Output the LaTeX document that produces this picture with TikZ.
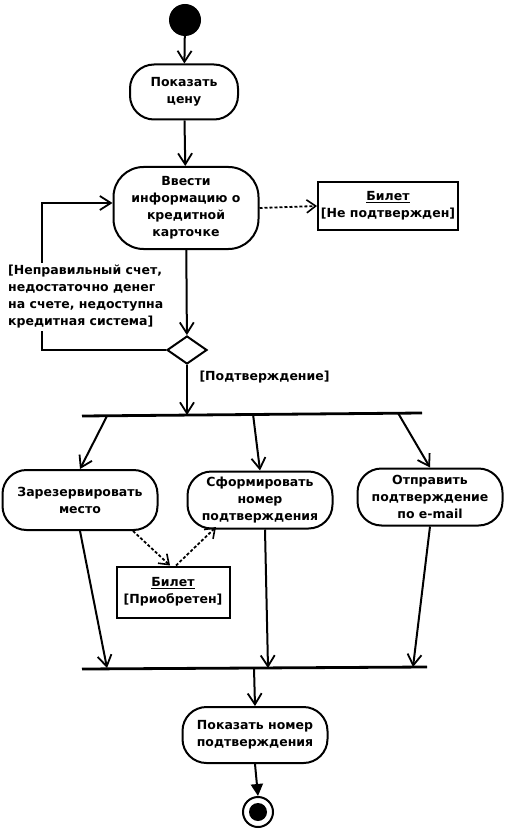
\documentclass[tikz,border=0pt]{standalone}
\usepackage{fontspec}
\setmainfont{DejaVu Sans}
\usetikzlibrary{arrows.meta,shapes.geometric}
\begin{document}
\begin{tikzpicture}[x=1pt,y=-1pt,
  every node/.style={font=\fontsize{12.5}{17}\selectfont\bfseries, align=center},
  act/.style={draw, line width=2pt, rounded corners=24pt, inner sep=1pt},
  obj/.style={draw, line width=2pt, inner sep=2pt},
  arr/.style={line width=2pt, -{Straight Barb[length=11pt,width=14pt,line width=1.8pt]}},
  darr/.style={line width=1.8pt, dash pattern=on 3pt off 2pt, -{Straight Barb[length=9pt,width=13pt,line width=1.6pt]}},
  bar/.style={line width=2.8pt}]
\useasboundingbox (0,0) rectangle (515,829);
\fill (185,20) circle (16);
\node[circle, minimum size=32pt, inner sep=0pt] (start) at (185,20) {};
\node[act, minimum width=108pt, minimum height=55pt] (a1) at (184,92) {Показать\\цену};
\node[act, minimum width=145pt, minimum height=82pt, rounded corners=30pt] (a2) at (186,208) {Ввести\\информацию о\\кредитной\\карточке};
\node[obj, minimum width=140pt, minimum height=48pt] (o1) at (388,206) {\underline{Билет}\\{}[Не подтвержден]};
\node[draw, diamond, line width=2pt, minimum width=40pt, minimum height=28pt, inner sep=0pt, aspect=1.5] (d) at (187,350) {};
\coordinate (l1) at (42,350);
\coordinate (l2) at (42,203);
\draw[arr] (d.west) -- (l1) -- (l2) -- (a2.west |- l2);
\node[fill=white, align=left, inner sep=2pt, anchor=west] (g1) at (6,297) {[Неправильный счет,\\недостаточно денег\\на счете, недоступна\\кредитная система]};
\node[anchor=west] (g2) at (196,377) {[Подтверждение]};
\draw[arr] (start) -- (a1);
\draw[arr] (a1) -- (a2);
\draw[arr] (a2) -- (d);
\draw[darr] (a2.east) -- (o1.west);
% fork bar
\coordinate (fL) at (82,416);
\coordinate (fR) at (422,413);
\draw[bar] (fL) -- (fR);
\coordinate (f0) at (187,415);
\coordinate (f1) at (107,416);
\coordinate (f2) at (253,414);
\coordinate (f3) at (398,413);
\draw[arr] (d.south) -- (f0);
\node[act, minimum width=155pt, minimum height=60pt] (a3) at (80,500) {Зарезервировать\\место};
\node[act, minimum width=145pt, minimum height=57pt] (a4) at (260,500) {Сформировать\\номер\\подтверждения};
\node[act, minimum width=145pt, minimum height=57pt] (a5) at (430,497) {Отправить\\подтверждение\\по e-mail};
\draw[arr] (f1) -- (a3.north);
\draw[arr] (f2) -- (a4.north);
\draw[arr] (f3) -- (a5.north);
\node[obj, minimum width=113pt, minimum height=51pt] (o2) at (173,592) {\underline{Билет}\\{}[Приобретен]};
\coordinate (s3) at (133,531);
\coordinate (s4) at (216,527);
\draw[darr] (s3) -- ([xshift=-3pt]o2.north);
\draw[darr] ([xshift=3pt]o2.north) -- (s4);
% join bar
\coordinate (jL) at (82,669);
\coordinate (jR) at (427,667);
\draw[bar] (jL) -- (jR);
\coordinate (j1) at (107,668);
\coordinate (j2) at (268,668);
\coordinate (j3) at (413,667);
\coordinate (j0) at (254,668);
\draw[arr] (a3.south) -- (j1);
\draw[arr] ([xshift=5pt]a4.south) -- (j2);
\draw[arr] (a5.south) -- (j3);
\node[act, minimum width=145pt, minimum height=56pt] (a6) at (255,735) {Показать номер\\подтверждения};
\draw[arr] (j0) -- (a6.north);
\node[draw, circle, line width=2pt, minimum size=30pt, inner sep=0pt] (end) at (258,812) {};
\fill (258,812) circle (9);
\draw[line width=2pt, -{Triangle[length=12pt,width=12pt]}] (a6.south) -- (end.north);
\end{tikzpicture}
\end{document}
